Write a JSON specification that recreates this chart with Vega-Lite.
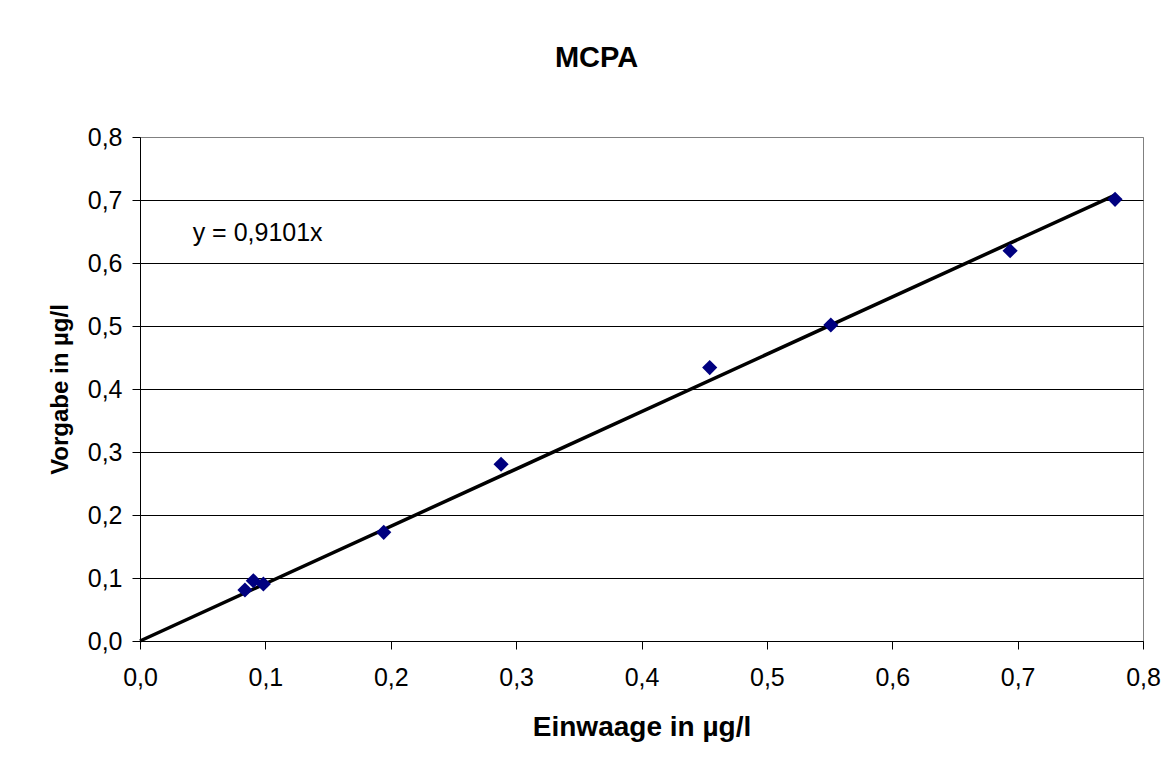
{
  "$schema": "https://vega.github.io/schema/vega-lite/v6.json",
  "width": 1003,
  "height": 504,
  "autosize": {"type": "none"},
  "padding": {"left": 140, "top": 137, "right": 26, "bottom": 130},
  "background": "white",
  "title": {
    "text": "MCPA",
    "fontSize": 29,
    "font": "Liberation Sans",
    "fontWeight": "bold",
    "color": "black",
    "baseline": "alphabetic",
    "offset": 29,
    "dx": -45
  },
  "config": {
    "view": {"stroke": "#808080", "strokeWidth": 1},
    "font": "Liberation Sans",
    "axis": {
      "labelFont": "Liberation Sans",
      "labelFontSize": 25,
      "labelColor": "black",
      "titleFont": "Liberation Sans",
      "titleFontSize": 24,
      "titleFontWeight": "bold",
      "titleColor": "black",
      "domainColor": "black",
      "tickColor": "black",
      "tickSize": 8,
      "labelFlush": false,
      "labelOverlap": false
    }
  },
  "datasets": {
    "pts": [
      {"einwaage": 0.0837, "vorgabe": 0.081},
      {"einwaage": 0.0904, "vorgabe": 0.0957},
      {"einwaage": 0.0984, "vorgabe": 0.0905},
      {"einwaage": 0.1944, "vorgabe": 0.1725},
      {"einwaage": 0.2880, "vorgabe": 0.2805},
      {"einwaage": 0.4544, "vorgabe": 0.4340},
      {"einwaage": 0.5510, "vorgabe": 0.5016},
      {"einwaage": 0.6940, "vorgabe": 0.6195},
      {"einwaage": 0.7777, "vorgabe": 0.7010}
    ],
    "fit": [
      {"einwaage": 0, "vorgabe": 0},
      {"einwaage": 0.7777, "vorgabe": 0.7078}
    ],
    "eq": [
      {"einwaage": 0.042, "vorgabe": 0.648, "label": "y = 0,9101x"}
    ]
  },
  "layer": [
    {
      "data": {"name": "fit"},
      "mark": {"type": "line", "color": "black", "strokeWidth": 3.5},
      "encoding": {
        "x": {
          "field": "einwaage",
          "type": "quantitative",
          "scale": {"domain": [0, 0.8], "nice": false},
          "axis": {
            "title": "Einwaage in µg/l",
            "titleFontSize": 28,
            "values": [0, 0.1, 0.2, 0.3, 0.4, 0.5, 0.6, 0.7, 0.8],
            "labelExpr": "replace(format(datum.value, '.1f'), '.', ',')",
            "grid": false,
            "labelPadding": 16,
            "titlePadding": 23
          }
        },
        "y": {
          "field": "vorgabe",
          "type": "quantitative",
          "scale": {"domain": [0, 0.8], "nice": false},
          "axis": {
            "title": "Vorgabe in µg/l",
            "values": [0, 0.1, 0.2, 0.3, 0.4, 0.5, 0.6, 0.7, 0.8],
            "labelExpr": "replace(format(datum.value, '.1f'), '.', ',')",
            "grid": true,
            "gridColor": {"condition": {"test": "datum.value >= 0.79", "value": "#808080"}, "value": "black"},
            "gridWidth": 1,
            "labelPadding": 10,
            "titlePadding": 15
          }
        }
      }
    },
    {
      "data": {"name": "pts"},
      "mark": {"type": "point", "shape": "diamond", "filled": true, "color": "#000080", "size": 230, "opacity": 1},
      "encoding": {
        "x": {"field": "einwaage", "type": "quantitative"},
        "y": {"field": "vorgabe", "type": "quantitative"}
      }
    },
    {
      "data": {"name": "eq"},
      "mark": {"type": "text", "align": "left", "baseline": "middle", "fontSize": 25, "font": "Liberation Sans", "color": "black"},
      "encoding": {
        "x": {"field": "einwaage", "type": "quantitative"},
        "y": {"field": "vorgabe", "type": "quantitative"},
        "text": {"field": "label"}
      }
    }
  ]
}
